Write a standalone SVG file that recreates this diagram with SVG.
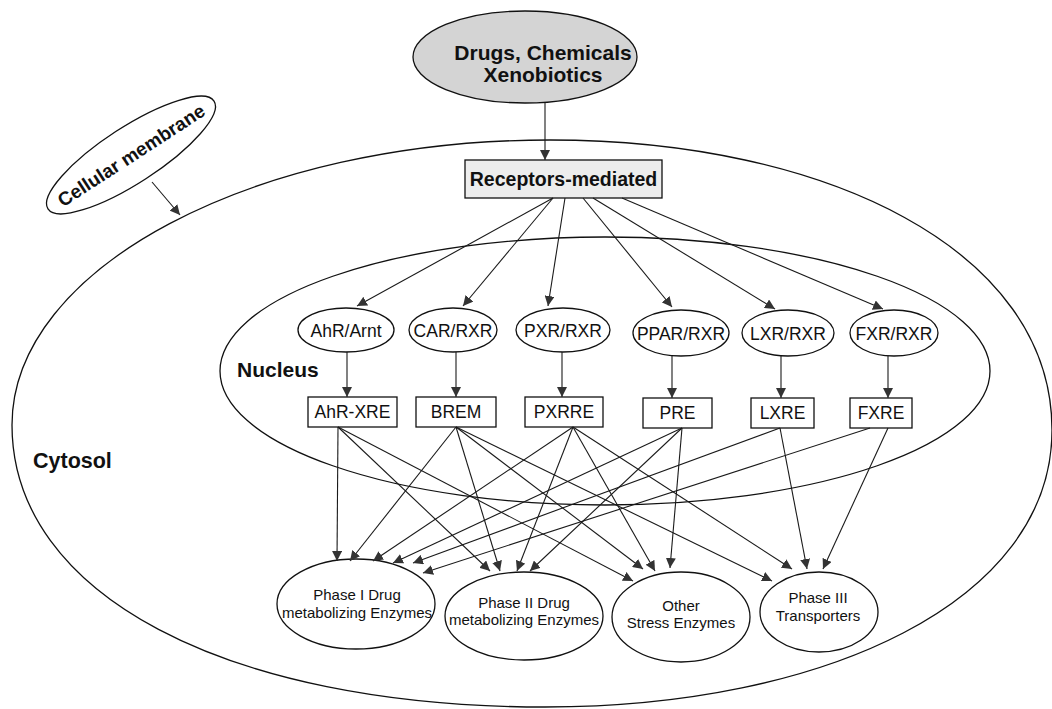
<svg xmlns="http://www.w3.org/2000/svg" width="1052" height="709" viewBox="0 0 1052 709">
<style>
text{font-family:"Liberation Sans",Arial,sans-serif;fill:#111}
.b{font-weight:bold}
.nr{font-size:17.5px}
.en{font-size:15px}
.shape{stroke:#111;stroke-width:1.3;fill:#fff}
.region{stroke:#111;stroke-width:1.3;fill:none}
.c line{stroke:#1a1a1a;stroke-width:1.1;marker-end:url(#ah)}
</style>
<defs>
<marker id="ah" markerUnits="userSpaceOnUse" markerWidth="11" markerHeight="10" refX="10" refY="5" orient="auto">
<path d="M0,0 L10,5 L0,10 z" fill="#333"/>
</marker>
</defs>
<g id="cell">
<path class="region" d="M12,425 C12,268 253,140 550,140 C826,140 1052,250 1052,430 C1052,602 824,707 545,707 C225,707 12,594 12,425 Z"/>
<text class="b" x="33" y="468" font-size="21.5">Cytosol</text>
</g>
<g id="nucleus">
<ellipse class="region" cx="605" cy="371" rx="385" ry="134"/>
<text class="b" x="237" y="377" font-size="21">Nucleus</text>
</g>
<g id="membrane">
<ellipse class="shape" cx="131" cy="155" rx="99" ry="28" transform="rotate(-33 131 155)"/>
<text class="b" x="131" y="162" font-size="19" text-anchor="middle" transform="rotate(-33 131 155)">Cellular membrane</text>
</g>
<g id="drugs">
<ellipse cx="525" cy="57" rx="112" ry="46" fill="#d4d4d4" stroke="#111" stroke-width="1.3"/>
<text class="b" x="543" y="60" font-size="21" text-anchor="middle">Drugs, Chemicals</text>
<text class="b" x="543" y="82" font-size="21" text-anchor="middle">Xenobiotics</text>
</g>
<g id="receptors">
<rect x="465" y="160" width="197" height="38" fill="#ededed" stroke="#111" stroke-width="1.3"/>
<text class="b" x="563.5" y="186" font-size="19.5" text-anchor="middle">Receptors-mediated</text>
</g>
<g id="ahr"><ellipse class="shape" cx="346" cy="330" rx="48" ry="22"/><text class="nr" x="346" y="337" text-anchor="middle">AhR/Arnt</text></g>
<g id="car"><ellipse class="shape" cx="453" cy="330" rx="44" ry="22"/><text class="nr" x="453" y="337" text-anchor="middle">CAR/RXR</text></g>
<g id="pxr"><ellipse class="shape" cx="563" cy="330" rx="47" ry="22"/><text class="nr" x="563" y="337" text-anchor="middle">PXR/RXR</text></g>
<g id="ppar"><ellipse class="shape" cx="681" cy="333" rx="48" ry="23"/><text class="nr" x="681" y="340" text-anchor="middle">PPAR/RXR</text></g>
<g id="lxr"><ellipse class="shape" cx="788" cy="333" rx="46" ry="23"/><text class="nr" x="788" y="340" text-anchor="middle">LXR/RXR</text></g>
<g id="fxr"><ellipse class="shape" cx="894" cy="333" rx="44" ry="23"/><text class="nr" x="894" y="340" text-anchor="middle">FXR/RXR</text></g>
<g id="ahrxre"><rect class="shape" x="308" y="397" width="89" height="30"/><text class="nr" x="352.5" y="418" text-anchor="middle">AhR-XRE</text></g>
<g id="brem"><rect class="shape" x="416" y="397" width="80" height="30"/><text class="nr" x="456" y="418" text-anchor="middle">BREM</text></g>
<g id="pxrre"><rect class="shape" x="525" y="397" width="78" height="30"/><text class="nr" x="564" y="418" text-anchor="middle">PXRRE</text></g>
<g id="pre"><rect class="shape" x="643" y="398" width="69" height="30"/><text class="nr" x="677.5" y="419" text-anchor="middle">PRE</text></g>
<g id="lxre"><rect class="shape" x="751" y="398" width="63" height="30"/><text class="nr" x="782.5" y="419" text-anchor="middle">LXRE</text></g>
<g id="fxre"><rect class="shape" x="850" y="398" width="62" height="30"/><text class="nr" x="881" y="419" text-anchor="middle">FXRE</text></g>
<g id="phase1"><ellipse class="shape" cx="356" cy="604" rx="79" ry="45"/><text class="en" x="357" y="600" text-anchor="middle">Phase I Drug</text><text class="en" x="357" y="618" text-anchor="middle">metabolizing Enzymes</text></g>
<g id="phase2"><ellipse class="shape" cx="524" cy="616" rx="79" ry="44"/><text class="en" x="524" y="608" text-anchor="middle">Phase II Drug</text><text class="en" x="524" y="625" text-anchor="middle">metabolizing Enzymes</text></g>
<g id="other"><ellipse class="shape" cx="681" cy="617" rx="69" ry="45"/><text class="en" x="681" y="611" text-anchor="middle">Other</text><text class="en" x="681" y="628" text-anchor="middle">Stress Enzymes</text></g>
<g id="phase3"><ellipse class="shape" cx="819" cy="612" rx="59" ry="40"/><text class="en" x="818" y="603" text-anchor="middle">Phase III</text><text class="en" x="818" y="621" text-anchor="middle">Transporters</text></g>
<g id="connectors" class="c">
<line x1="545" y1="103" x2="545" y2="160"/>
<line x1="152" y1="182" x2="180" y2="215"/>
<line x1="553" y1="198" x2="357" y2="306"/>
<line x1="553" y1="198" x2="463" y2="306"/>
<line x1="565" y1="198" x2="548" y2="306"/>
<line x1="583" y1="198" x2="672" y2="307"/>
<line x1="593" y1="198" x2="775" y2="309"/>
<line x1="622" y1="198" x2="883" y2="309"/>
<line x1="347" y1="352" x2="347" y2="397"/>
<line x1="456" y1="352" x2="456" y2="397"/>
<line x1="562" y1="352" x2="562" y2="397"/>
<line x1="672" y1="356" x2="672" y2="398"/>
<line x1="781" y1="356" x2="781" y2="398"/>
<line x1="888" y1="356" x2="888" y2="398"/>
<line x1="338" y1="427" x2="337" y2="561"/>
<line x1="338" y1="427" x2="490" y2="571"/>
<line x1="338" y1="427" x2="633" y2="581"/>
<line x1="456" y1="427" x2="350" y2="561"/>
<line x1="456" y1="427" x2="500" y2="571"/>
<line x1="456" y1="427" x2="643" y2="569"/>
<line x1="456" y1="427" x2="772" y2="581"/>
<line x1="573" y1="427" x2="373" y2="561"/>
<line x1="573" y1="427" x2="517" y2="571"/>
<line x1="573" y1="427" x2="655" y2="571"/>
<line x1="573" y1="427" x2="792" y2="569"/>
<line x1="682" y1="428" x2="393" y2="563"/>
<line x1="682" y1="428" x2="530" y2="571"/>
<line x1="682" y1="428" x2="670" y2="568"/>
<line x1="780" y1="428" x2="413" y2="563"/>
<line x1="780" y1="428" x2="807" y2="569"/>
<line x1="870" y1="428" x2="423" y2="573"/>
<line x1="888" y1="428" x2="823" y2="569"/>
</g>
</svg>
